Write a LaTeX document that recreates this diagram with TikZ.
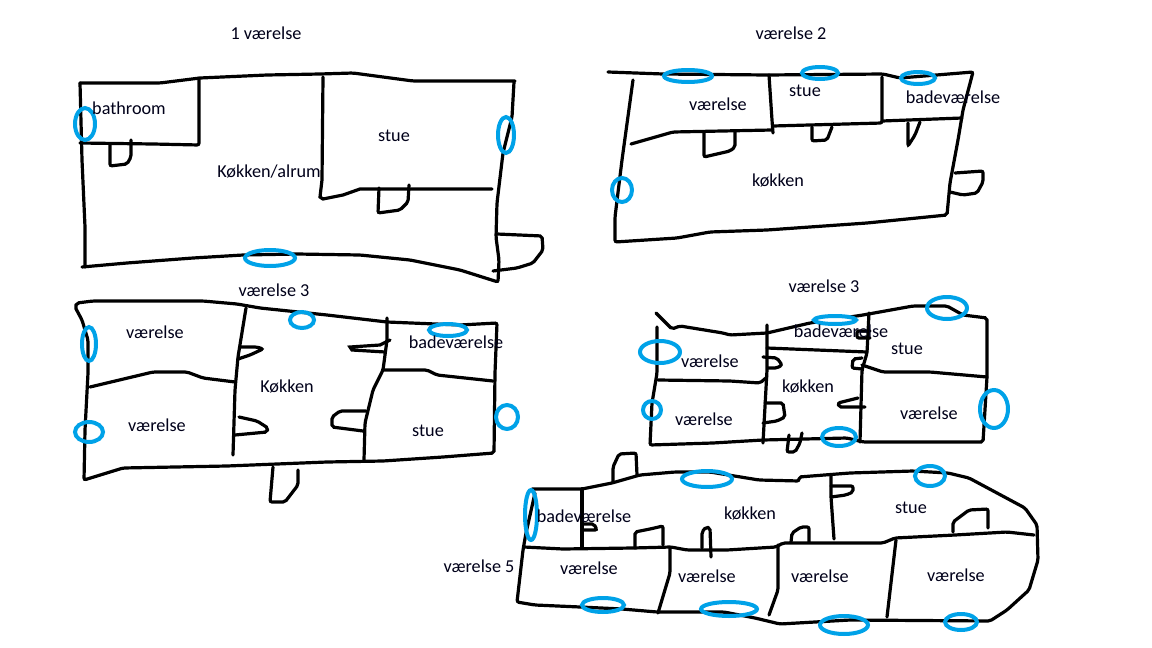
\documentclass[tikz,border=0pt]{standalone}
\usepackage{fontspec}
\setmainfont{Carlito}
\usetikzlibrary{positioning}
\definecolor{ringblue}{HTML}{00A2E8}

\begin{document}
\begin{tikzpicture}[x=1pt,y=-1pt,thin,
                    wall/.style={draw=black,line width=3.2pt,rounded corners=2pt,line cap=round},
                    bluering/.style={draw=ringblue,line width=4pt},
                    room/.style={font=\fontsize{18.2}{20}\selectfont,inner sep=0pt,text=black!90!blue}]
  \useasboundingbox (0,0) rectangle (1152,648);

% first flat
  \draw[wall] (80,83) -- (160,83) -- (200,78) -- (267,75) -- (320,74) -- (353,73) -- (413,81) -- (515,81);
  \draw[wall] (514,82) -- (512,117) -- (503,153) -- (497,203) -- (496,237) -- (499,260) -- (498,282)
    -- (460,270) -- (410,260) -- (360,255) -- (297,254) -- (243,255) -- (193,258) -- (127,263) -- (82,267);
  \draw[wall] (85,267) -- (85,227) -- (82,160) -- (80,83);
  \draw[wall] (80,143) -- (153,144) -- (199,145) -- (199,78);
  \draw[wall] (110,145) -- (110,166) -- (127,164) -- (131,157) -- (131,140);
  \draw[wall,rounded corners=0pt] (323,77) -- (322,180) -- (320,197) -- (323,199) -- (343,195) -- (360,189) -- (492,189);
  \draw[wall] (379,188) -- (378,213) -- (400,210) -- (408,202) -- (409,185);
  \draw[wall] (497,234) -- (542,236) -- (543,250) -- (533,263) -- (517,268) -- (493,271);

% second flat
  \draw[wall] (608,72) -- (663,74) -- (767,75) -- (883,74) -- (900,78) -- (973,72) -- (963,110) -- (958,140)
    -- (950,183) -- (947,215) -- (867,223) -- (767,230) -- (710,232) -- (677,238) -- (615,242)
    -- (615,217) -- (622,160) -- (633,80);
  \draw[wall] (631,144) -- (673,132) -- (772,130);
  \draw[wall] (773,133) -- (772,120) -- (769,75);
  \draw[wall] (773,126) -- (882,123) -- (882,77);
  \draw[wall] (882,121) -- (962,118);
  \draw[wall] (704,133) -- (704,157) -- (730,151) -- (735,147) -- (735,132);
  \draw[wall] (812,127) -- (812,141) -- (827,140) -- (832,127);
  \draw[wall] (908,123) -- (908,146) -- (915,135) -- (920,122);
  \draw[wall] (955,173) -- (983,171) -- (983,182) -- (977,193) -- (963,195) -- (950,192);

% third flat
  \draw[wall] (77,303) -- (93,301) -- (203,301) -- (237,304) -- (260,308) -- (327,315) -- (387,322) -- (460,325)
    -- (497,323) -- (495,373) -- (494,453) -- (443,457) -- (383,461) -- (327,462) -- (227,466) -- (123,468)
    -- (84,480) -- (85,430) -- (88,373) -- (88,340) -- (82,320) -- (75,307) -- cycle;
  \draw[wall] (90,387) -- (153,372) -- (187,372) -- (203,378) -- (235,382);
  \draw[wall] (246,308) -- (238,357) -- (235,390) -- (233,455);
  \draw[wall] (240,347) -- (257,347) -- (263,349) -- (250,355) -- (238,359);
  \draw[wall] (239,417) -- (257,421) -- (268,428) -- (267,432) -- (235,435);
  \draw[wall] (387,318) -- (387,340) -- (383,370) -- (373,390) -- (365,423) -- (364,460);
  \draw[wall] (366,411) -- (340,411) -- (332,417) -- (332,427) -- (363,431);
  \draw[wall,rounded corners=0pt] (390,340) -- (380,345) -- (350,347) -- (352,350) -- (385,352);
  \draw[wall] (383,370) -- (427,370) -- (437,375) -- (493,381);
  \draw[wall] (273,467) -- (270,502) -- (285,502) -- (298,485) -- (298,470);

% fourth flat
  \draw[wall] (656,313) -- (672,329) -- (680,326) -- (723,333) -- (730,335) -- (767,333) -- (810,323) -- (863,315)
    -- (913,306) -- (947,306) -- (963,315) -- (987,318) -- (987,377) -- (983,442) -- (863,442) -- (847,438)
    -- (763,440) -- (713,443) -- (650,445) -- (652,403) -- (657,373) -- (657,327);
  \draw[wall] (658,380) -- (730,381) -- (760,383) -- (767,377);
  \draw[wall] (767,325) -- (767,370) -- (763,443);
  \draw[wall] (767,348) -- (867,352);
  \draw[wall] (869,313) -- (867,353) -- (862,370) -- (860,442);
  \draw[wall] (862,365) -- (883,372) -- (930,372) -- (987,377);
  \draw[wall] (763,357) -- (777,358) -- (782,365) -- (777,368) -- (768,368);
  \draw[wall] (765,403) -- (783,403) -- (785,417) -- (777,421) -- (763,423);
  \draw[wall] (870,331) -- (857,331) -- (857,338) -- (870,338);
  \draw[wall] (862,358) -- (853,359) -- (852,368) -- (862,369);
  \draw[wall] (858,398) -- (838,403) -- (839,407) -- (865,407);
  \draw[wall] (789,435) -- (787,452) -- (795,452) -- (800,443) -- (802,433);

% fifth flat
  \draw[wall] (532,489) -- (582,489) -- (612,483) -- (640,475) -- (675,472) -- (710,472) -- (759,480) -- (799,481)
    -- (799,477) -- (850,473) -- (913,471) -- (948,473) -- (969,478) -- (997,493) -- (1025,508) -- (1037,525)
    -- (1038,560) -- (1029,590) -- (1007,610) -- (990,621) -- (850,620) -- (780,624) -- (755,618) -- (724,612)
    -- (657,612) -- (622,609) -- (580,607) -- (535,605) -- (517,602) -- (523,550) -- (526,533) -- (535,493);
  \draw[wall] (524,547) -- (563,549) -- (633,548) -- (671,547) -- (687,550) -- (727,550) -- (776,547) -- (783,543)
    -- (883,543) -- (895,538) -- (955,535) -- (1007,532) -- (1034,535);
  \draw[wall] (582,489) -- (582,548);
  \draw[wall] (582,524) -- (594,524) -- (597,530) -- (582,530);
  \draw[wall] (635,548) -- (635,532) -- (650,529) -- (663,526) -- (663,545);
  \draw[wall] (702,548) -- (702,532) -- (706,527) -- (710,528) -- (711,557);
  \draw[wall] (791,542) -- (792,533) -- (801,527) -- (809,527) -- (809,542);
  \draw[wall] (831,475) -- (831,497) -- (834,539);
  \draw[wall] (831,486) -- (853,486) -- (853,492) -- (846,495) -- (831,497);
  \draw[wall] (953,532) -- (953,522) -- (969,510) -- (988,509) -- (988,528);
  \draw[wall] (613,482) -- (613,467) -- (619,454) -- (636,453) -- (637,475);
  \draw[wall] (670,547) -- (670,573) -- (658,613);
  \draw[wall] (778,545) -- (778,590) -- (769,615);
  \draw[wall] (896,540) -- (887,617);

% blue rings
  \draw[bluering] (85,124) ellipse (10 and 16);
  \draw[bluering] (506,135) ellipse (8 and 18);
  \draw[bluering] (270,258) ellipse (25 and 8);
  \draw[bluering] (688,76) ellipse (24 and 6);
  \draw[bluering] (820,73) ellipse (18 and 6);
  \draw[bluering] (918,78) ellipse (17 and 6);
  \draw[bluering] (622,190) ellipse (10 and 12);
  \draw[bluering] (89,344) ellipse (7 and 17);
  \draw[bluering] (89,432) ellipse (14 and 10);
  \draw[bluering] (302,320) ellipse (12 and 8);
  \draw[bluering] (448,330) ellipse (19 and 6);
  \draw[bluering] (507,417) ellipse (11 and 12);
  \draw[bluering] (660,352) ellipse (20 and 11);
  \draw[bluering] (652,410) ellipse (9 and 9);
  \draw[bluering,fill=white] (835,320) ellipse (21 and 4);
  \draw[bluering] (839,437) ellipse (17 and 9);
  \draw[bluering] (947,308) ellipse (20 and 11);
  \draw[bluering] (994,409) ellipse (14 and 19);
  \draw[bluering] (531,515) ellipse (6 and 25);
  \draw[bluering] (707,479) ellipse (25 and 8);
  \draw[bluering] (930,476) ellipse (15 and 10);
  \draw[bluering] (603,605) ellipse (21 and 7);
  \draw[bluering] (729,609) ellipse (28 and 7);
  \draw[bluering] (844,625) ellipse (24 and 9);
  \draw[bluering] (961,622) ellipse (16 and 8);

% labels
  \node[room] (title1) at (266,33) {1 værelse};
  \node[room] (bath1) at (129,108) {bathroom};
  \node[room] (stue1) at (394,136) {stue};
  \node[room] (kitchen1) at (269,172) {Køkken/alrum};
  \node[room] (title2) at (791,33) {værelse 2};
  \node[room] (bed2) at (718,104) {værelse};
  \node[room] (stue2) at (805,91) {stue};
  \node[room] (bath2) at (953,97) {badeværelse};
  \node[room] (kitchen2) at (778,181) {køkken};
  \node[room] (title3) at (274,290) {værelse 3};
  \node[room] (bed3a) at (155,332) {værelse};
  \node[room] (bed3b) at (157,425) {værelse};
  \node[room] (bath3) at (456,342) {badeværelse};
  \node[room] (kitchen3) at (287,387) {Køkken};
  \node[room] (stue3) at (428,431) {stue};
  \node[room] (title4) at (824,286) {værelse 3};
  \node[room] (bed4a) at (710,361) {værelse};
  \node[room] (bed4b) at (704,419) {værelse};
  \node[room] (bed4c) at (929,413) {værelse};
  \node[room] (bath4) at (841,331) {badeværelse};
  \node[room] (stue4) at (907,349) {stue};
  \node[room] (kitchen4) at (808,387) {køkken};
  \node[room] (title5) at (479,566) {værelse 5};
  \node[room] (bath5) at (584,516) {badeværelse};
  \node[room] (kitchen5) at (750,514) {køkken};
  \node[room] (stue5) at (911,508) {stue};
  \node[room] (bed5a) at (589,568) {værelse};
  \node[room] (bed5b) at (707,576) {værelse};
  \node[room] (bed5c) at (820,576) {værelse};
  \node[room] (bed5d) at (956,575) {værelse};

\end{tikzpicture}
\end{document}
